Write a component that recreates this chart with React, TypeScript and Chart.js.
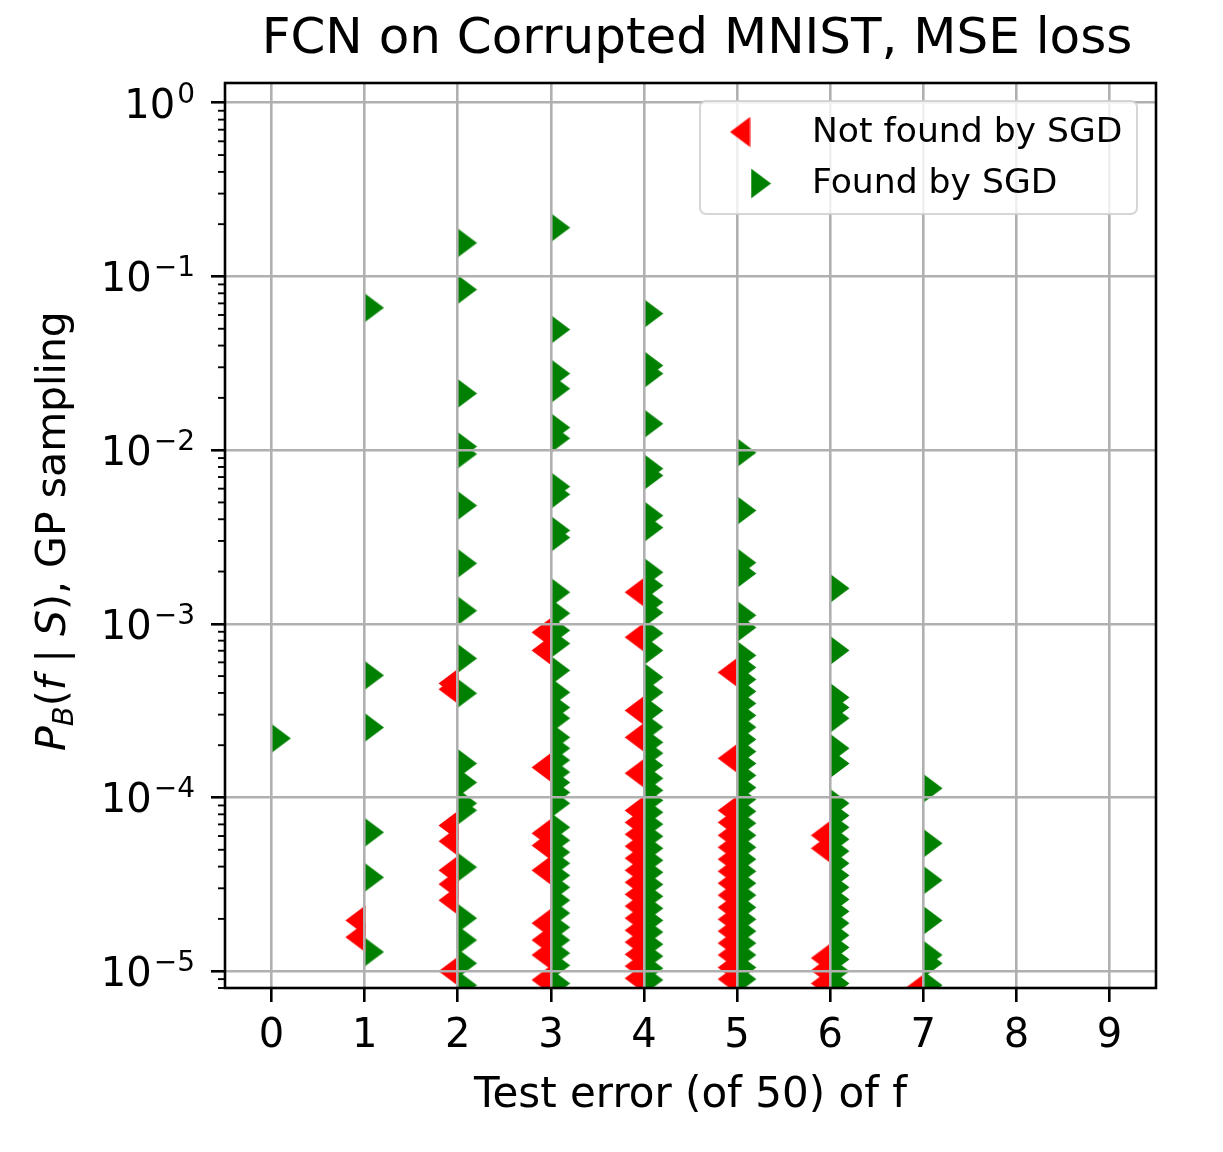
import React, { useEffect, useRef } from 'react';
import { Chart, registerables } from 'chart.js';

Chart.register(...registerables);

const CANVAS_W = 1223;
const CANVAS_H = 1152;
const FONT = '"DejaVu Sans", "Liberation Sans", sans-serif';

// x categories: test error (of 50)
const testErrors = [0, 1, 2, 3, 4, 5, 6, 7, 8, 9];
// y decade ticks (exponents of 10)
const yTickExponents = [0, -1, -2, -3, -4, -5];

// P_B(f|S) values, found by SGD (green), one array per test error
const found0 = [2.19e-4];
const found1 = [0.066, 5.05e-4, 2.53e-4, 6.3e-5, 3.47e-5, 1.29e-5];
const found2 = [0.156, 0.084, 0.0212, 0.0105, 0.0095, 0.0048, 2.23e-3, 1.19e-3, 6.32e-4, 3.98e-4, 1.57e-4, 1.22e-4, 9.26e-5, 8.44e-5, 3.97e-5, 2.02e-5, 1.51e-5, 1.11e-5, 8.3e-6];
const found3 = [0.191, 0.0495, 0.0276, 0.0226, 0.0135, 0.0117, 6.17e-3, 5.56e-3, 3.45e-3, 3.14e-3, 1.52e-3, 1.15e-3, 9.16e-4, 7.7e-4, 5.39e-4, 4.03e-4, 3.3e-4, 2.86e-4, 2.22e-4, 1.92e-4, 1.64e-4, 1.4e-4, 1.22e-4, 1.07e-4, 9.26e-5, 6.74e-5, 5.67e-5, 4.84e-5, 4.18e-5, 3.56e-5, 3.04e-5, 2.56e-5, 2.16e-5, 1.79e-5, 1.51e-5, 1.27e-5, 1.08e-5, 8.5e-6];
const found4 = [0.0611, 0.0307, 0.0276, 0.0142, 7.83e-3, 7.14e-3, 4.2e-3, 3.58e-3, 1.98e-3, 1.66e-3, 1.33e-3, 1.16e-3, 8.82e-4, 7.03e-4, 4.92e-4, 4.03e-4, 3.17e-4, 2.54e-4, 2.08e-4, 1.8e-4, 1.53e-4, 1.29e-4, 1.1e-4, 9.63e-5, 8.22e-5, 7.02e-5, 5.98e-5, 5.1e-5, 4.35e-5, 3.71e-5, 3.16e-5, 2.7e-5, 2.3e-5, 1.96e-5, 1.68e-5, 1.43e-5, 1.22e-5, 1.04e-5, 8.9e-6];
const found5 = [9.67e-3, 4.49e-3, 2.25e-3, 1.95e-3, 1.12e-3, 9.52e-4, 6.58e-4, 5.61e-4, 4.78e-4, 4.08e-4, 3.48e-4, 2.97e-4, 2.54e-4, 2.16e-4, 1.84e-4, 1.57e-4, 1.34e-4, 1.14e-4, 9.76e-5, 8.33e-5, 7.11e-5, 6.06e-5, 5.17e-5, 4.41e-5, 3.76e-5, 3.21e-5, 2.74e-5, 2.33e-5, 1.99e-5, 1.7e-5, 1.45e-5, 1.24e-5, 1.05e-5, 9.0e-6];
const found6 = [1.6e-3, 7.03e-4, 3.77e-4, 3.3e-4, 2.86e-4, 1.92e-4, 1.57e-4, 9.26e-5, 7.87e-5, 6.74e-5, 5.75e-5, 4.91e-5, 4.18e-5, 3.56e-5, 3.04e-5, 2.59e-5, 2.21e-5, 1.89e-5, 1.61e-5, 1.37e-5, 1.17e-5, 1.0e-5, 8.5e-6];
const found7 = [1.13e-4, 5.45e-5, 3.34e-5, 1.96e-5, 1.24e-5, 1.11e-5, 8.3e-6];

// not found by SGD (red)
const notFound1 = [1.96e-5, 1.57e-5];
const notFound2 = [4.54e-4, 4.2e-4, 6.9e-5, 5.6e-5, 3.81e-5, 3.17e-5, 2.56e-5, 1.0e-5];
const notFound3 = [8.93e-4, 7.03e-4, 1.49e-4, 6.22e-5, 5.3e-5, 3.81e-5, 1.89e-5, 1.51e-5, 1.24e-5, 8.9e-6];
const notFound4 = [1.52e-3, 8.37e-4, 3.17e-4, 2.22e-4, 1.38e-4, 8.42e-5, 7.19e-5, 6.14e-5, 5.24e-5, 4.47e-5, 3.81e-5, 3.25e-5, 2.77e-5, 2.37e-5, 2.02e-5, 1.72e-5, 1.47e-5, 1.25e-5, 1.07e-5, 9.1e-6];
const notFound5 = [5.25e-4, 1.68e-4, 8.42e-5, 7.19e-5, 6.06e-5, 5.17e-5, 4.41e-5, 3.76e-5, 3.21e-5, 2.74e-5, 2.33e-5, 1.99e-5, 1.7e-5, 1.45e-5, 1.24e-5, 1.05e-5, 9.0e-6];
const notFound6 = [6.06e-5, 5.1e-5, 1.19e-5, 1.01e-5, 8.5e-6];
const notFound7 = [7.9e-6];

const foundByError = [found0, found1, found2, found3, found4, found5, found6, found7];
const notFoundByError = [[], notFound1, notFound2, notFound3, notFound4, notFound5, notFound6, notFound7];

const OFFSET = 0.1;
const RED = '#ff0000';
const GREEN = '#008000';

function makeTriangle(dir: 'left' | 'right', color: string): HTMLCanvasElement {
  const c = document.createElement('canvas');
  c.width = 21;
  c.height = 31;
  const g = c.getContext('2d')!;
  g.fillStyle = color;
  g.beginPath();
  if (dir === 'right') {
    g.moveTo(0.5, 0.5);
    g.lineTo(20.5, 15.5);
    g.lineTo(0.5, 30.5);
  } else {
    g.moveTo(20.5, 0.5);
    g.lineTo(0.5, 15.5);
    g.lineTo(20.5, 30.5);
  }
  g.closePath();
  g.fill();
  return c;
}

function toPoints(groups: number[][], dx: number) {
  const pts: { x: number; y: number }[] = [];
  groups.forEach((vals, i) => {
    vals.forEach((v) => pts.push({ x: testErrors[i] + dx, y: v }));
  });
  return pts;
}

export default function App() {
  const canvasRef = useRef<HTMLCanvasElement | null>(null);

  useEffect(() => {
    const canvas = canvasRef.current;
    if (!canvas) return;
    const redTri = makeTriangle('left', RED);
    const greenTri = makeTriangle('right', GREEN);

    const decorations = {
      id: 'decorations',
      afterDraw(chart: any) {
        const ctx: CanvasRenderingContext2D = chart.ctx;
        const area = chart.chartArea;
        const ys = chart.scales.y;
        ctx.save();

        // frame
        ctx.strokeStyle = '#000';
        ctx.lineWidth = 2.6;
        ctx.strokeRect(area.left, area.top, area.right - area.left, area.bottom - area.top);

        // minor y ticks
        ctx.lineWidth = 1.9;
        for (let e = -6; e <= 0; e++) {
          for (let m = 2; m <= 9; m++) {
            const v = m * Math.pow(10, e);
            if (v < ys.min || v > ys.max) continue;
            const py = ys.getPixelForValue(v);
            ctx.beginPath();
            ctx.moveTo(area.left - 7, py);
            ctx.lineTo(area.left, py);
            ctx.stroke();
          }
        }

        // y tick labels 10^k
        ctx.fillStyle = '#000';
        ctx.textBaseline = 'alphabetic';
        ctx.textAlign = 'right';
        yTickExponents.forEach((e) => {
          const py = ys.getPixelForValue(Math.pow(10, e));
          const expStr = e === 0 ? '0' : '\u2212' + Math.abs(e);
          const right = area.left - 30;
          ctx.font = `28px ${FONT}`;
          ctx.fillText(expStr, right, py);
          const ew = ctx.measureText(expStr).width;
          ctx.font = `40px ${FONT}`;
          ctx.fillText('10', right - ew - 2, py + 15);
        });

        // title
        ctx.textAlign = 'center';
        ctx.font = `50px ${FONT}`;
        ctx.fillText('FCN on Corrupted MNIST, MSE loss', 697, 53);

        // x axis title
        ctx.font = `42px ${FONT}`;
        ctx.fillText('Test error (of 50) of f', (area.left + area.right) / 2, 1107);

        // y axis title (mathtext-like)
        const segs = [
          { t: 'P', f: `italic 41px ${FONT}`, dy: 0 },
          { t: 'B', f: `italic 29px ${FONT}`, dy: 8 },
          { t: '(', f: `41px ${FONT}`, dy: 0 },
          { t: 'f', f: `italic 41px ${FONT}`, dy: 0 },
          { t: ' | ', f: `41px ${FONT}`, dy: 0 },
          { t: 'S', f: `italic 41px ${FONT}`, dy: 0 },
          { t: '), GP sampling', f: `41px ${FONT}`, dy: 0 },
        ];
        let total = 0;
        const widths = segs.map((s) => {
          ctx.font = s.f;
          const w = ctx.measureText(s.t).width;
          total += w;
          return w;
        });
        ctx.save();
        ctx.translate(65, 531);
        ctx.rotate(-Math.PI / 2);
        ctx.textAlign = 'left';
        let cx = -total / 2;
        segs.forEach((s, i) => {
          ctx.font = s.f;
          ctx.fillText(s.t, cx, s.dy);
          cx += widths[i];
        });
        ctx.restore();

        // legend
        const lx = 700, ly = 101, lw = 437, lh = 113, r = 6;
        ctx.beginPath();
        ctx.moveTo(lx + r, ly);
        ctx.arcTo(lx + lw, ly, lx + lw, ly + lh, r);
        ctx.arcTo(lx + lw, ly + lh, lx, ly + lh, r);
        ctx.arcTo(lx, ly + lh, lx, ly, r);
        ctx.arcTo(lx, ly, lx + lw, ly, r);
        ctx.closePath();
        ctx.fillStyle = 'rgba(255,255,255,0.8)';
        ctx.fill();
        ctx.strokeStyle = 'rgba(204,204,204,0.8)';
        ctx.lineWidth = 2;
        ctx.stroke();
        ctx.drawImage(redTri, 740 - 10.5, 132 - 15.5);
        ctx.drawImage(greenTri, 761 - 10.5, 183.5 - 15.5);
        ctx.fillStyle = '#000';
        ctx.textAlign = 'left';
        ctx.font = `34.6px ${FONT}`;
        ctx.fillText('Not found by SGD', 812, 141.5);
        ctx.fillText('Found by SGD', 812, 192.5);

        ctx.restore();
      },
    };

    const chart = new Chart(canvas, {
      type: 'scatter',
      data: {
        datasets: [
          {
            label: 'Not found by SGD',
            data: toPoints(notFoundByError, -OFFSET),
            pointStyle: redTri as any,
            pointRadius: 15,
            backgroundColor: RED,
            borderColor: RED,
            clip: 0,
          },
          {
            label: 'Found by SGD',
            data: toPoints(foundByError, OFFSET),
            pointStyle: greenTri as any,
            pointRadius: 15,
            backgroundColor: GREEN,
            borderColor: GREEN,
            clip: 0,
          },
        ],
      },
      options: {
        animation: false,
        responsive: false,
        layout: { padding: { left: 0, top: 83, right: 67, bottom: 0 } },
        plugins: {
          legend: { display: false },
          title: { display: false },
          tooltip: { enabled: false },
        },
        events: [],
        scales: {
          x: {
            type: 'linear',
            min: -0.5,
            max: 9.5,
            afterBuildTicks: (s: any) => {
              s.ticks = testErrors.map((v) => ({ value: v }));
            },
            afterFit: (s: any) => {
              s.height = 164;
            },
            ticks: {
              font: { family: FONT, size: 40 },
              color: '#000',
              padding: 11,
              maxRotation: 0,
              autoSkip: false,
              callback: (v: any) => String(v),
            },
            grid: {
              z: 1,
              color: '#b0b0b0',
              lineWidth: 2.6,
              tickLength: 14,
              tickColor: '#000',
              tickWidth: 2.6,
            },
            border: { display: false },
          },
          y: {
            type: 'logarithmic',
            min: 8e-6,
            max: 1.3,
            afterBuildTicks: (s: any) => {
              s.ticks = yTickExponents.map((e) => ({ value: Math.pow(10, e) }));
            },
            afterFit: (s: any) => {
              s.width = 225;
            },
            ticks: { display: false },
            grid: {
              z: 1,
              color: '#b0b0b0',
              lineWidth: 2.6,
              tickLength: 14,
              tickColor: '#000',
              tickWidth: 2.6,
            },
            border: { display: false },
          },
        },
      },
      plugins: [decorations],
    } as any);

    return () => {
      chart.destroy();
    };
  }, []);

  return (
    <div style={{ position: 'absolute', left: 0, top: 0, width: CANVAS_W, height: CANVAS_H, background: '#fff' }}>
      <canvas ref={canvasRef} width={CANVAS_W} height={CANVAS_H} style={{ display: 'block' }} />
    </div>
  );
}
